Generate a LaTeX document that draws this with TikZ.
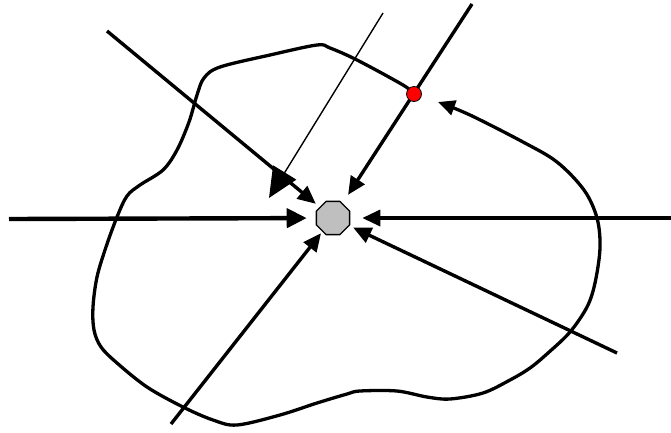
\documentclass[tikz,border=0pt]{standalone}
\usetikzlibrary{arrows.meta,shapes.geometric}
\begin{document}
\begin{tikzpicture}[x=1pt,y=-1pt,
  ray/.style={line width=3.4pt,-{Triangle[length=18pt,width=16pt]}},
  wide/.style={line width=4.4pt,-{Triangle[length=20pt,width=19pt]}},
  thinray/.style={line width=1.4pt,-{Triangle[length=30pt,width=27pt]}},
  rim/.style={line width=3.3pt,line join=round,line cap=round,-{Triangle[length=17pt,width=15pt]}},
  core/.style={regular polygon,regular polygon sides=8,minimum size=36pt,inner sep=0pt,
    draw=black,line width=1.3pt,fill=black!25},
  spot/.style={circle,minimum size=15pt,inner sep=0pt,draw=black,line width=0.8pt,fill=red}]
\useasboundingbox (0,0) rectangle (671,432);

% outline of the region, closing back onto the marked point
\draw[rim] plot[smooth,tension=0.55] coordinates {
  (414,94) (403,85) (357,60) (330,48) (317,45) (270,55) (220,67) (204,78)
  (197,95) (189,122) (177,150) (163,170) (140,185) (127,196) (117,217)
  (106,247) (97,277) (93,307) (94,330) (101,347) (117,363) (147,387)
  (183,407) (213,420) (237,425) (280,415) (317,403) (347,394) (360,391)
  (397,391) (427,397) (450,399) (483,393) (510,380) (530,368) (548,353)
  (570,332) (587,307) (595,283) (600,248) (597,218) (584,190) (557,162)
  (523,142) (470,115) (438,102)};

% central point
\node[core] (c) at (333,218) {};

% free ends of the rays
\coordinate (ul) at (107,31);
\coordinate (ur) at (472,4);
\coordinate (l) at (9,219);
\coordinate (r) at (671,218);
\coordinate (ll) at (171,424);
\coordinate (lr) at (617,353);
\coordinate (tt) at (383,13);
\coordinate (tb) at (269,198);

\draw[ray,shorten >=5pt] (ul) -- (c);
\draw[ray,shorten >=10pt] (ur) -- (c);
\draw[wide,shorten >=9pt] (l) -- (c);
\draw[ray,shorten >=12pt] (r) -- (c);
\draw[ray,shorten >=2pt] (ll) -- (c);
\draw[ray,shorten >=4pt] (lr) -- (c);
\draw[thinray] (tt) -- (tb);

% marked point on the boundary
\node[spot] (p) at (414,94) {};
\end{tikzpicture}
\end{document}
